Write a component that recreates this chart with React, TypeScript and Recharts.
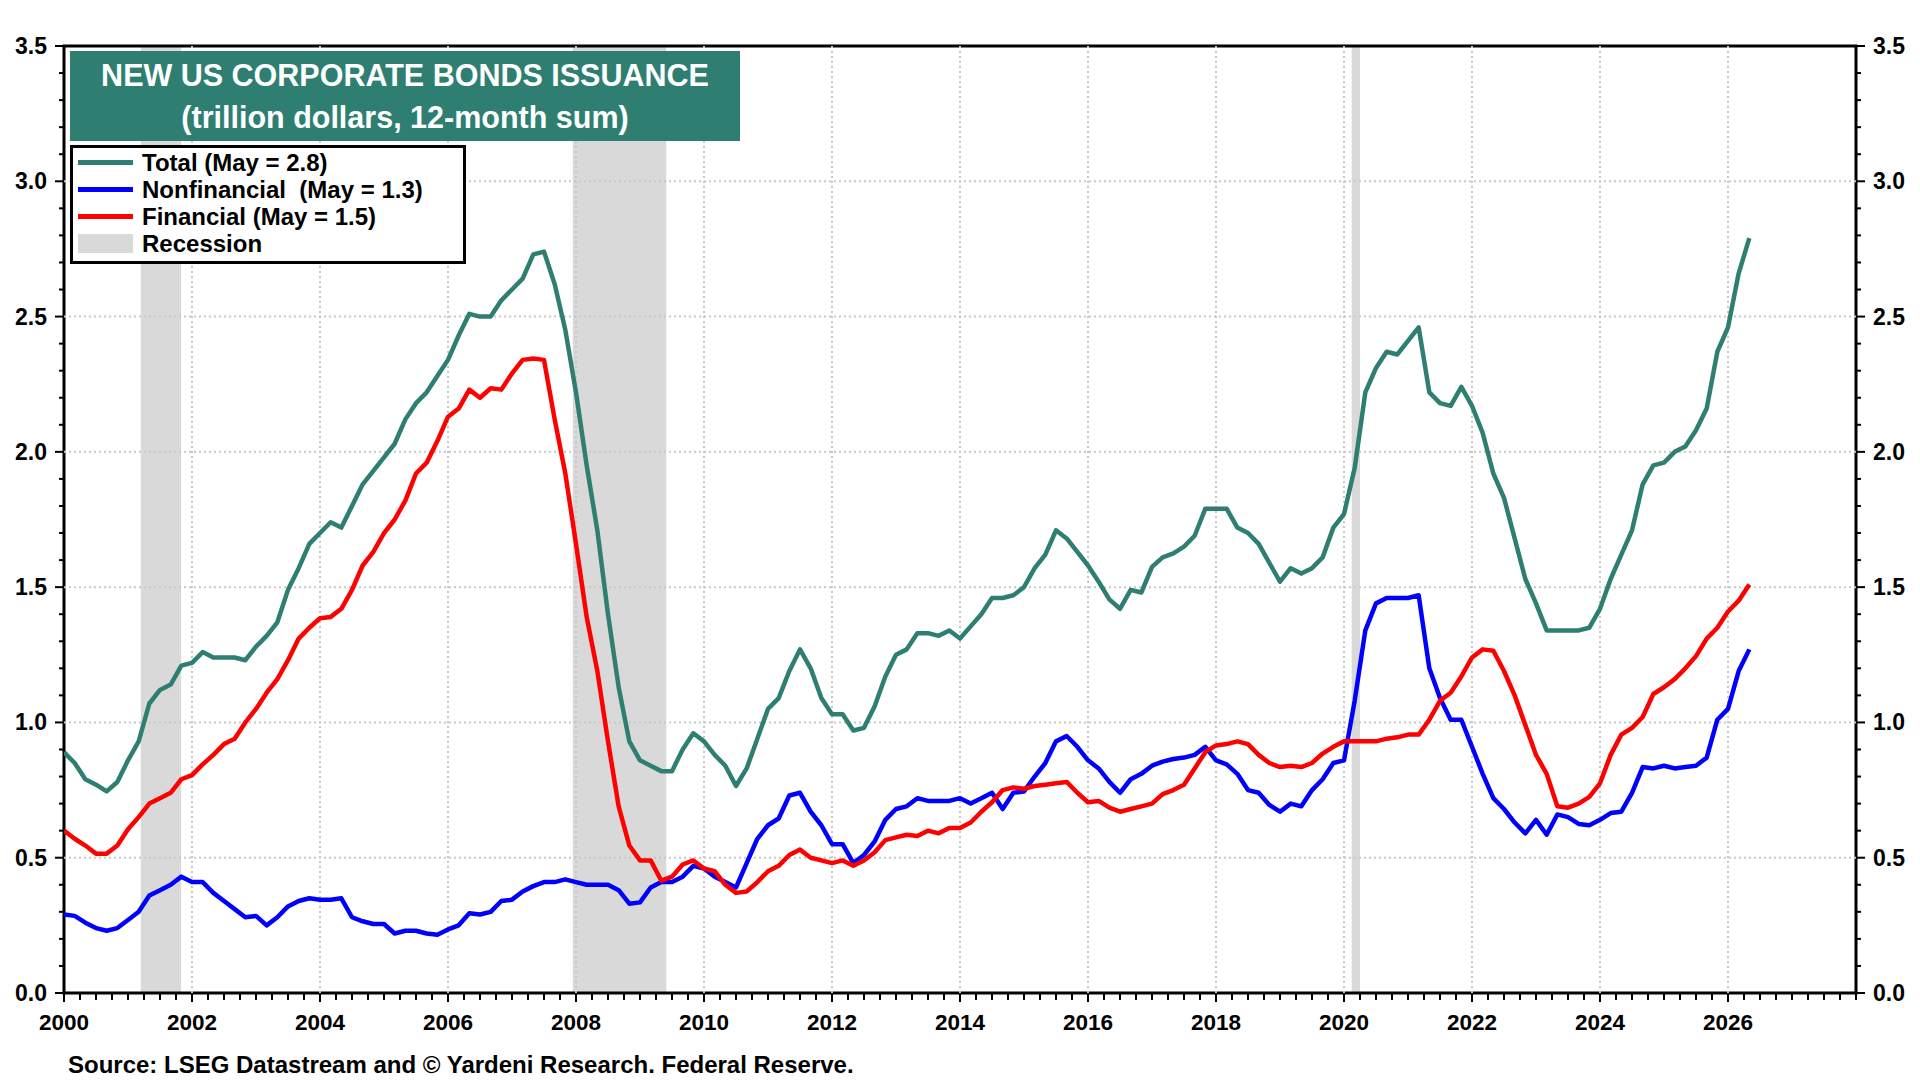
import React from 'react';
import { LineChart, Line, XAxis, YAxis, ReferenceArea, ReferenceLine } from 'recharts';

// bimonthly readings, Jan 2000 .. May 2026 (trillion dollars, 12-month sum)
const totalIssuance = [
  0.89, 0.85, 0.79, 0.77, 0.745, 0.78, 0.86, 0.93, 1.07, 1.12, 1.14, 1.21,
  1.22, 1.26, 1.24, 1.24, 1.24, 1.23, 1.28, 1.32, 1.37, 1.49, 1.57, 1.66,
  1.7, 1.74, 1.72, 1.8, 1.88, 1.93, 1.98, 2.03, 2.12, 2.18, 2.22, 2.28,
  2.34, 2.43, 2.51, 2.5, 2.5, 2.56, 2.6, 2.64, 2.73, 2.74, 2.62, 2.45,
  2.22, 1.95, 1.71, 1.4, 1.13, 0.93, 0.86, 0.84, 0.82, 0.82, 0.9, 0.96,
  0.93, 0.88, 0.84, 0.765, 0.83, 0.94, 1.05, 1.09, 1.19, 1.27, 1.2, 1.09,
  1.03, 1.03, 0.97, 0.98, 1.06, 1.17, 1.25, 1.27, 1.33, 1.33, 1.32, 1.34,
  1.31, 1.355, 1.4, 1.46, 1.46, 1.47, 1.5, 1.57, 1.62, 1.71, 1.68, 1.63,
  1.58, 1.52, 1.455, 1.42, 1.49, 1.48, 1.575, 1.61, 1.625, 1.65, 1.69, 1.79,
  1.79, 1.79, 1.72, 1.7, 1.66, 1.59, 1.52, 1.57, 1.55, 1.57, 1.61, 1.72,
  1.77, 1.94, 2.22, 2.31, 2.37, 2.36, 2.41, 2.46, 2.22, 2.18, 2.17, 2.24,
  2.17, 2.07, 1.92, 1.83, 1.68, 1.53, 1.44, 1.34, 1.34, 1.34, 1.34, 1.35,
  1.42, 1.53, 1.62, 1.71, 1.88, 1.95, 1.96, 2.0, 2.02, 2.08, 2.16, 2.37,
  2.46, 2.66, 2.79,
];

const nonfinancialIssuance = [
  0.29, 0.285, 0.26, 0.24, 0.23, 0.24, 0.27, 0.3, 0.36, 0.38, 0.4, 0.43,
  0.41, 0.41, 0.37, 0.34, 0.31, 0.28, 0.285, 0.25, 0.28, 0.32, 0.34, 0.35,
  0.345, 0.345, 0.35, 0.28, 0.265, 0.255, 0.255, 0.22, 0.23, 0.23, 0.22, 0.215,
  0.235, 0.25, 0.295, 0.29, 0.3, 0.34, 0.345, 0.375, 0.395, 0.41, 0.41, 0.42,
  0.41, 0.4, 0.4, 0.4, 0.38, 0.33, 0.335, 0.39, 0.41, 0.41, 0.43, 0.47,
  0.46, 0.43, 0.41, 0.39, 0.48, 0.57, 0.62, 0.645, 0.73, 0.74, 0.67, 0.62,
  0.55, 0.55, 0.48, 0.51, 0.56, 0.64, 0.68, 0.69, 0.72, 0.71, 0.71, 0.71,
  0.72, 0.7, 0.72, 0.74, 0.68, 0.74, 0.745, 0.8, 0.85, 0.93, 0.95, 0.91,
  0.86, 0.83, 0.78, 0.74, 0.79, 0.81, 0.84, 0.855, 0.865, 0.87, 0.88, 0.91,
  0.86, 0.845, 0.81, 0.75, 0.74, 0.695, 0.67, 0.7, 0.69, 0.75, 0.79, 0.85,
  0.86, 1.08, 1.34, 1.44, 1.46, 1.46, 1.46, 1.47, 1.2, 1.09, 1.01, 1.01,
  0.91, 0.81, 0.72, 0.68, 0.63, 0.59, 0.64, 0.585, 0.66, 0.65, 0.625, 0.62,
  0.64, 0.665, 0.67, 0.74, 0.835, 0.83, 0.84, 0.83, 0.835, 0.84, 0.87, 1.01,
  1.05, 1.19, 1.27,
];

const financialIssuance = [
  0.6, 0.57, 0.545, 0.515, 0.515, 0.545, 0.605, 0.65, 0.7, 0.72, 0.74, 0.79,
  0.805, 0.845, 0.88, 0.92, 0.94, 1.0, 1.05, 1.11, 1.16, 1.23, 1.31, 1.35,
  1.385, 1.39, 1.42, 1.49, 1.58, 1.63, 1.7, 1.75, 1.82, 1.92, 1.96, 2.04,
  2.13, 2.16, 2.23, 2.2, 2.235, 2.23, 2.29, 2.34, 2.345, 2.34, 2.12, 1.92,
  1.66, 1.39, 1.19, 0.93, 0.69, 0.545, 0.49, 0.49, 0.415, 0.43, 0.475, 0.49,
  0.46, 0.45, 0.4, 0.37, 0.375, 0.41, 0.45, 0.47, 0.51, 0.53, 0.5, 0.49,
  0.48, 0.49, 0.47, 0.49, 0.52, 0.565, 0.575, 0.585, 0.58, 0.6, 0.59, 0.61,
  0.61, 0.63, 0.67, 0.705, 0.75, 0.76, 0.755, 0.765, 0.77, 0.775, 0.78, 0.74,
  0.705, 0.71, 0.685, 0.67, 0.68, 0.69, 0.7, 0.735, 0.75, 0.77, 0.83, 0.89,
  0.915, 0.92, 0.93, 0.92, 0.88, 0.85, 0.835, 0.84, 0.835, 0.85, 0.885, 0.91,
  0.93, 0.93, 0.93, 0.93, 0.94, 0.945, 0.955, 0.955, 1.01, 1.08, 1.11, 1.17,
  1.24, 1.27, 1.265, 1.19, 1.1, 0.99, 0.88, 0.81, 0.69, 0.685, 0.7, 0.725,
  0.775, 0.88, 0.955, 0.98, 1.02, 1.105, 1.13, 1.16, 1.2, 1.245, 1.31, 1.35,
  1.41, 1.45, 1.51,
];

const yearLabels = [2000, 2002, 2004, 2006, 2008, 2010, 2012, 2014, 2016, 2018, 2020, 2022, 2024, 2026];
const valueLabels = ['0.0', '0.5', '1.0', '1.5', '2.0', '2.5', '3.0', '3.5'];
const gridValues = [0.5, 1, 1.5, 2, 2.5, 3];

const recessionStarts = [2001.2, 2007.95, 2020.12];
const recessionEnds = [2001.83, 2009.41, 2020.25];

const legendItems = [
  { label: 'Total (May = 2.8)', color: '#2e7f72', box: false },
  { label: 'Nonfinancial  (May = 1.3)', color: '#0000ff', box: false },
  { label: 'Financial (May = 1.5)', color: '#ff0000', box: false },
  { label: 'Recession', color: '#d9d9d9', box: true },
];

const FONT = 'Arial, "Liberation Sans", sans-serif';
const TEAL = '#2e7f72';

const data = totalIssuance.map((v, i) => ({
  date: 2000 + (i * 2) / 12,
  total: v,
  nonfin: nonfinancialIssuance[i],
  fin: financialIssuance[i],
}));

const quarterTicks: number[] = [];
for (let i = 0; i <= 28 * 4; i++) quarterTicks.push(2000 + i / 4);
const tenthTicks: number[] = [];
for (let i = 0; i <= 35; i++) tenthTicks.push(i / 10);

const XTick = ({ x, y, payload }: any) => {
  const major = yearLabels.includes(payload.value);
  return (
    <g>
      <line x1={x} x2={x} y1={y} y2={y + (major ? 9 : 7)} stroke="#000" strokeWidth={2} />
      {major && (
        <text x={x} y={y + 37} textAnchor="middle" fontSize={22.5} fontWeight="bold" fontFamily={FONT} fill="#000">
          {payload.value}
        </text>
      )}
    </g>
  );
};

const YTick = ({ x, y, payload, side }: any) => {
  const idx = Math.round(payload.value * 10);
  const major = idx % 5 === 0;
  const dir = side === 'left' ? -1 : 1;
  const len = major ? 9 : 5;
  return (
    <g>
      <line x1={x} x2={x + dir * len} y1={y} y2={y} stroke="#000" strokeWidth={2} />
      {major && (
        <text
          x={x + dir * 17}
          y={y + 8}
          textAnchor={side === 'left' ? 'end' : 'start'}
          fontSize={23}
          fontWeight="bold"
          fontFamily={FONT}
          fill="#000"
        >
          {valueLabels[idx / 5]}
        </text>
      )}
    </g>
  );
};

export default function App() {
  return (
    <div style={{ position: 'absolute', left: 0, top: 0, width: 1920, height: 1080, background: '#fff', fontFamily: FONT }}>
      <LineChart width={1920} height={1080} data={data} margin={{ top: 46, right: 0, left: 0, bottom: 0 }}>
        <XAxis
          dataKey="date"
          type="number"
          domain={[2000, 2028]}
          ticks={quarterTicks}
          interval={0}
          height={87}
          axisLine={false}
          tickLine={false}
          tickSize={0}
          tickMargin={0}
          tick={(p: any) => <XTick {...p} />}
          allowDataOverflow
        />
        <YAxis
          yAxisId="left"
          domain={[0, 3.5]}
          ticks={tenthTicks}
          interval={0}
          width={64}
          axisLine={false}
          tickLine={false}
          tickSize={0}
          tickMargin={0}
          tick={(p: any) => <YTick {...p} side="left" />}
          allowDataOverflow
        />
        <YAxis
          yAxisId="right"
          orientation="right"
          domain={[0, 3.5]}
          ticks={tenthTicks}
          interval={0}
          width={64}
          axisLine={false}
          tickLine={false}
          tickSize={0}
          tickMargin={0}
          tick={(p: any) => <YTick {...p} side="right" />}
          allowDataOverflow
        />
        {recessionStarts.map((s, i) => (
          <ReferenceArea
            key={`rec-${i}`}
            yAxisId="left"
            x1={s}
            x2={recessionEnds[i]}
            y1={0}
            y2={3.5}
            fill="#d9d9d9"
            fillOpacity={1}
            stroke="none"
          />
        ))}
        {gridValues.map((v) => (
          <ReferenceLine key={`h-${v}`} yAxisId="left" y={v} stroke="#c8c8c8" strokeWidth={2} strokeDasharray="2 3" />
        ))}
        {yearLabels.slice(1).map((v) => (
          <ReferenceLine key={`v-${v}`} yAxisId="left" x={v} stroke="#c8c8c8" strokeWidth={2} strokeDasharray="2 3" />
        ))}
        <Line yAxisId="left" type="linear" dataKey="total" stroke={TEAL} strokeWidth={4.5} dot={false} isAnimationActive={false} strokeLinejoin="round" />
        <Line yAxisId="left" type="linear" dataKey="nonfin" stroke="#0000ff" strokeWidth={4.5} dot={false} isAnimationActive={false} strokeLinejoin="round" />
        <Line yAxisId="left" type="linear" dataKey="fin" stroke="#ff0000" strokeWidth={4.5} dot={false} isAnimationActive={false} strokeLinejoin="round" />
        <ReferenceArea yAxisId="left" x1={2000} x2={2028} y1={0} y2={3.5} fill="none" stroke="#000" strokeWidth={3} />
      </LineChart>

      <div
        style={{
          position: 'absolute',
          left: 70,
          top: 51,
          width: 670,
          height: 90,
          background: TEAL,
          color: '#fff',
          fontWeight: 'bold',
          fontSize: 30.5,
          textAlign: 'center',
          boxSizing: 'border-box',
          paddingTop: 3,
          whiteSpace: 'nowrap',
        }}
      >
        <div style={{ lineHeight: '42px' }}>NEW US CORPORATE BONDS ISSUANCE</div>
        <div style={{ lineHeight: '42px' }}>(trillion dollars, 12-month sum)</div>
      </div>

      <div
        style={{
          position: 'absolute',
          left: 70,
          top: 145,
          width: 396,
          height: 119,
          background: '#fff',
          border: '3px solid #000',
          boxSizing: 'border-box',
          paddingTop: 1,
        }}
      >
        {legendItems.map((item) => (
          <div key={item.label} style={{ display: 'flex', alignItems: 'center', height: 27 }}>
            <div
              style={{
                marginLeft: 5,
                width: 55,
                height: item.box ? 19 : 5,
                background: item.color,
              }}
            />
            <span style={{ marginLeft: 9, fontSize: 24, fontWeight: 'bold', color: '#000', whiteSpace: 'pre', lineHeight: '27px' }}>
              {item.label}
            </span>
          </div>
        ))}
      </div>

      <div
        style={{
          position: 'absolute',
          left: 68,
          top: 1051,
          fontSize: 24,
          fontWeight: 'bold',
          color: '#000',
          whiteSpace: 'nowrap',
          lineHeight: '28px',
        }}
      >
        Source: LSEG Datastream and © Yardeni Research. Federal Reserve.
      </div>
    </div>
  );
}
